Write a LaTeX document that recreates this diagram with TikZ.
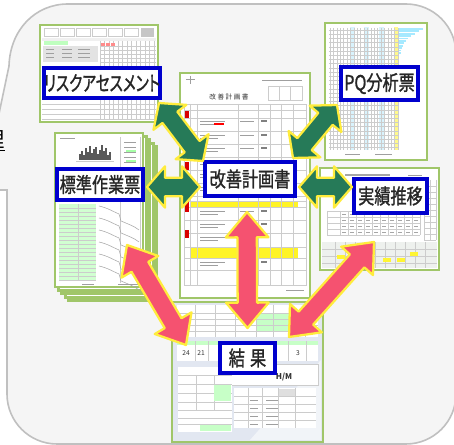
\documentclass[tikz,border=0pt]{standalone}
\usepackage{fontspec}
\usepackage{graphicx}
\usetikzlibrary{calc}
\newfontfamily\jp[RawFeature=+palt,FakeBold=1.4]{Noto Sans CJK JP}
\newfontfamily\jpplain{Noto Sans CJK JP}
\definecolor{docgreen}{RGB}{160,198,105}
\definecolor{lblblue}{RGB}{0,0,205}
\definecolor{arrgreen}{RGB}{38,122,88}
\definecolor{arrpink}{RGB}{245,82,112}
\definecolor{arryel}{RGB}{255,236,60}
\definecolor{panelfill}{RGB}{245,245,245}
\definecolor{panelline}{RGB}{192,192,192}
\definecolor{kekkabg}{RGB}{226,231,241}
\newcommand\dblarrow[6]{%
  \coordinate (dA) at ($(#1)!#5!(#2)$);
  \coordinate (dB) at ($(#2)!#5!(#1)$);
  \draw[#6] (#1) -- ($(dA)!#4!90:(#2)$) -- ($(dA)!#3!90:(#2)$) -- ($(dB)!#3!-90:(#1)$) -- ($(dB)!#4!-90:(#1)$) -- (#2) -- ($(dB)!#4!90:(#1)$) -- ($(dB)!#3!90:(#1)$) -- ($(dA)!#3!-90:(#2)$) -- ($(dA)!#4!-90:(#2)$) -- cycle;}
\tikzset{
 panel/.style={fill=panelfill, draw=panelline, line width=1.2pt},
 doc/.style={draw=docgreen, line width=2pt, fill=white},
 gl/.style={draw=gray!40, line width=0.3pt},
 tl/.style={draw=gray!75, line width=0.6pt},
 lbl/.style={draw=lblblue, line width=3pt, fill=white, inner sep=0pt, text=black!85, font=\jp\fontsize{15.5}{15.5}\selectfont},
 garrow/.style={fill=arrgreen, draw=arryel, line width=1.7pt, line join=round},
 parrow/.style={fill=arrpink, draw=arryel, line width=1.7pt, line join=round},
 tiny/.style={font=\jpplain\fontsize{5}{5}\selectfont, inner sep=0pt, text=black!80},
}
\begin{document}
\begin{tikzpicture}[x=0.75pt,y=-0.75pt]
\useasboundingbox (0,0) rectangle (454,445);
\fill[white] (0,0) rectangle (454,445);
% panel (callout)
\draw[panel] (-17,190) -- (7,190) -- (7,394) .. controls (7,421.6) and (29.4,444) .. (57,444) -- (406,444) .. controls (433.6,444) and (456,421.6) .. (456,394) -- (456,54) .. controls (456,26.4) and (433.6,4) .. (406,4) -- (68,4) .. controls (35,4) and (10,30) .. (9,66) -- cycle;
\node[font=\jpplain\fontsize{16}{16}\selectfont, anchor=east, inner sep=0pt] (ri) at (5,141) {\underline{理}};

% ---------- Risk assessment sheet ----------
\draw[doc] (40,25) rectangle (158,122);
\foreach \x in {44,60,76,92,108,124} \draw[gl] (\x,28) rectangle ++(14,8);
\fill[gray!45] (141,28) rectangle (154,37);
\fill[gray!12] (42,38) rectangle (156,41);
\fill[green!25] (44,41) rectangle (68,45);
\fill[gray!22] (43,46) rectangle (98,62);
\foreach \y in {49,53,57} {\draw[tl] (46,\y) -- ++(8,0); \draw[tl] (62,\y) -- ++(10,0); \draw[tl] (78,\y) -- ++(12,0);}
\foreach \x in {100,104.5,...,155} \draw[gl] (\x,41) -- (\x,120);
\foreach \y in {46,50,...,62} \draw[gl] (100,\y) -- (156,\y);
\foreach \y in {104,109,114,119} \draw[gl] (42,\y) -- (156,\y);
\foreach \x in {101,106,111} \fill[red!45] (\x,43) rectangle ++(3.5,3);

% ---------- Standard work sheets (stack) ----------
\foreach \k in {4,3,2,1} \draw[doc] (55+3.4*\k,133+3.4*\k) rectangle ++(88,154);
\draw[doc] (55,133) rectangle (143,287);
\draw[tl] (60,138) -- (75,138);
\foreach \x/\h in {80/6,82/9,84/5,86/12,88/8,90/14,92/7,94/11,96/13,98/6,100/10,102/15,104/9,106/12,108/5,110/8}
  \draw[line width=1pt, black!65] (\x,160) -- (\x,160-\h);
\draw[gl] (76,161) -- (114,161);
\foreach \y in {142,147,152,157,162} \draw[tl] (124,\y) -- ++(12,0);
\fill[green!35] (126,150) rectangle ++(10,2);
\fill[green!35] (126,160) rectangle ++(10,2);
\draw[gl] (120,137) -- (120,283);
\draw[gl] (140,137) -- (140,283);
\fill[green!18] (59,204) rectangle (96,281);
\foreach \y in {208,212,...,280} \draw[gl] (59,\y) -- (96,\y);
\draw[gl] (78,204) -- (78,281);
\foreach \o in {0,12,24,36,48,60}
  \draw[gray!70, line width=0.4pt] (99,206+\o) .. controls (108,208+\o) and (114,212+\o) .. (119,214+\o) -- (121,221+\o) .. controls (128,224+\o) and (134,226+\o) .. (139,230+\o);
\draw[tl] (82,284) -- (94,284);
\draw[tl] (118,284) -- (138,284);

% ---------- Improvement plan sheet ----------
\draw[doc] (180,73) rectangle (310,298);
\draw[tl] (186,79) -- (195,79);
\draw[tl] (190,76) -- (190,84);
\node[tiny] (ktitle) at (229,97) {改\ 善\ 計\ 画\ 書};
\draw[tl] (262,80) -- (302,80);
\draw[gl] (268,86) rectangle (302,100);
\draw[gl] (279,86) -- (279,100);
\draw[gl] (290,86) -- (290,100);
\fill[yellow!85] (190,201) rectangle (298,207);
\fill[yellow!85] (190,247) rectangle (298,258);
\draw[gl] (184,104) rectangle (306,285);
\foreach \x in {190,197,238,258,270,281,293} \draw[gl] (\x,104) -- (\x,285);
\foreach \y in {110,118,131,144,157,170,183,196,201,207,220,233,247,258,270} \draw[gl] (184,\y) -- (306,\y);
\foreach \y in {121,135,148,161,174,187,211,224,237,262} {\draw[tl] (200,\y) -- ++(25,0); \draw[tl] (240,\y) -- ++(14,0); \draw[line width=0.8pt, gray] (261,\y) -- ++(6,0);}
\foreach \y in {124,138,151,164,177,190,214,227,240,265} \draw[tl] (200,\y) -- ++(18,0);
\fill[red!85!black] (185,111) rectangle (189,118);
\fill[red!85!black] (185,162) rectangle (189,170);
\fill[red!85!black] (185,201) rectangle (189,212);
\fill[red!85!black] (185,230) rectangle (189,238);
\draw[red, line width=0.8pt] (214,124) -- (224,124);
\draw[tl] (286,290) -- (304,290);

% ---------- PQ analysis sheet ----------
\draw[doc] (325,23) rectangle (427,160);
\fill[cyan!15] (350,27) rectangle (355,150);
\fill[cyan!15] (364,27) rectangle (369,150);
\fill[cyan!15] (379,27) rectangle (384,150);
\fill[yellow!45] (394,27) rectangle (398,150);
\foreach \x in {330,333.4,...,398} \draw[gl] (\x,28) -- (\x,150);
\foreach \y in {30,34.2,...,150} \draw[gl] (329,\y) -- (398,\y);
\foreach \i/\l in {0/24,1/20,2/16,3/12,4/9,5/7,6/5,7/4,8/3,9/2,10/2}
  \fill[blue!25!cyan!35] (399,28+\i*2.4) rectangle ++(\l,1.8);
\draw[tl] (345,154) -- (360,154);
\draw[tl] (375,154) -- (392,154);

% ---------- Results trend sheet ----------
\draw[doc] (320,168) rectangle (439,270);
\draw[line width=0.8pt, gray!70] (345,175) -- (390,175);
\draw[tl] (408,175) -- (422,175);
\foreach \x in {424,430,436} \draw[gl] (\x,180) -- (\x,240);
\foreach \y in {186,192,...,240} \draw[gl] (424,\y) -- (436,\y);
\foreach \y in {211,217,223,229,235} \draw[gl] (327,\y) -- (420,\y);
\foreach \x in {327,340,348,...,420} \draw[gl] (\x,211) -- (\x,235);
\foreach \y in {214,220,226,232} \foreach \x in {342,350,...,414} \draw[gray!70, line width=0.5pt] (\x,\y) -- ++(4,0);
\fill[green!8!gray!12] (322,242) rectangle (437,268);
\foreach \y in {249,256,263} \draw[gl] (322,\y) -- (437,\y);
\foreach \x in {335,345,...,425} \draw[gl] (\x,242) -- (\x,268);
\foreach \x/\y in {337/255,357/255,383/258,397/258,410/252} \fill[yellow!80] (\x,\y) rectangle ++(8,4);

% ---------- Results sheet ----------
\draw[doc, fill=kekkabg] (172,302) rectangle (323,442);
\fill[white, opacity=0.55] (250,440) -- (321,360) -- (321,440) -- cycle;
\fill[white] (177,305) rectangle (318,337);
\fill[green!22] (256,313) rectangle (290,331);
\foreach \y in {313,319,325,331} \draw[gl] (177,\y) -- (318,\y);
\foreach \x in {195,215,235,256,273,290,305} \draw[gl] (\x,305) -- (\x,337);
\fill[white] (177,341) rectangle (318,361);
\fill[green!22] (177,341) rectangle (318,345);
\foreach \x in {195,208,220,288,306} \draw[gl] (\x,341) -- (\x,361);
\node[tiny] (n24) at (186,353) {24};
\node[tiny] (n21) at (201,353) {21};
\node[tiny] (n3) at (298,353) {3};
\fill[white] (228,364) rectangle (318,385);
\draw[gl] (228,364) rectangle (318,385);
\node[tiny, font=\jpplain\bfseries\fontsize{6}{6}\selectfont] (hm) at (284,377) {H/M};
\fill[white] (178,367) rectangle (232,432);
\foreach \y in {375,384,393,402,410,418,424} \draw[gl] (178,\y) -- (232,\y);
\foreach \x in {196,214} \draw[gl] (\x,375) -- (\x,410);
\fill[green!22] (214,385) rectangle (231,401);
\fill[green!22] (200,425) rectangle (231,431);
\fill[white] (234,388) rectangle (316,428);
\fill[gray!25] (278,389) rectangle (295,396);
\foreach \y in {396,404,412,420} \draw[gl] (234,\y) -- (316,\y);
\foreach \x in {248,262,278,295} \draw[gl] (\x,388) -- (\x,428);
\foreach \y in {400,408,416,424} {\draw[tl] (250,\y) -- ++(8,0); \draw[tl] (266,\y) -- ++(12,0);}

% ---------- labels ----------
\node[lbl, minimum width=85.5pt, minimum height=22.5pt] (risk) at (102,83) {\scalebox{0.71}[1]{リスクアセスメント}};
\node[lbl, minimum width=64.5pt, minimum height=23.25pt] (hyo) at (100,184.5) {\scalebox{0.78}[1]{標準作業票}};
\node[lbl, minimum width=67.5pt, minimum height=25.5pt] (kaizen) at (250,179) {\scalebox{0.78}[1]{改善計画書}};
\node[lbl, minimum width=57.75pt, minimum height=24.75pt] (pq) at (379.5,83.5) {\scalebox{0.78}[1]{PQ分析票}};
\node[lbl, minimum width=54.75pt, minimum height=25.5pt] (jisseki) at (390.5,196) {\scalebox{0.78}[1]{実績推移}};
\node[lbl, minimum width=41.25pt, minimum height=22.5pt] (kekka) at (247.5,358) {\scalebox{0.78}[1]{結\hspace{5pt}果}};

% ---------- arrow tips ----------
\coordinate (g1a) at ($(risk.south east)+(-3,3)$);
\coordinate (g1b) at ($(kaizen.north west)+(0,1)$);
\coordinate (g2a) at ($(hyo.east)+(2,2.5)$);
\coordinate (g2b) at ($(kaizen.west |- g2a)+(-3,0)$);
\coordinate (g3a) at ($(pq.south west)+(-2,3)$);
\coordinate (g3b) at ($(kaizen.north east)+(-4,-2)$);
\coordinate (g4a) at ($(kaizen.east)+(2,8)$);
\coordinate (g4b) at (jisseki.west |- g4a);
\coordinate (p1a) at ($(kaizen.south)+(-3,14)$);
\coordinate (p1b) at ($(kekka.north)+(0,-13)$);
\coordinate (p2a) at (127,245);
\coordinate (p2b) at (186,345);
\coordinate (p3a) at (374,242);
\coordinate (p3b) at (289,337);

\dblarrow{g1a}{g1b}{7pt}{15.5pt}{13.5pt}{garrow}
\dblarrow{g2a}{g2b}{7pt}{15.5pt}{13.5pt}{garrow}
\dblarrow{g3a}{g3b}{7pt}{15.5pt}{13.5pt}{garrow}
\dblarrow{g4a}{g4b}{7pt}{15.5pt}{13.5pt}{garrow}
\dblarrow{p1a}{p1b}{7.3pt}{16pt}{19pt}{parrow}
\dblarrow{p2a}{p2b}{7.3pt}{16pt}{19pt}{parrow}
\dblarrow{p3a}{p3b}{7.3pt}{16pt}{19pt}{parrow}
\end{tikzpicture}
\end{document}
